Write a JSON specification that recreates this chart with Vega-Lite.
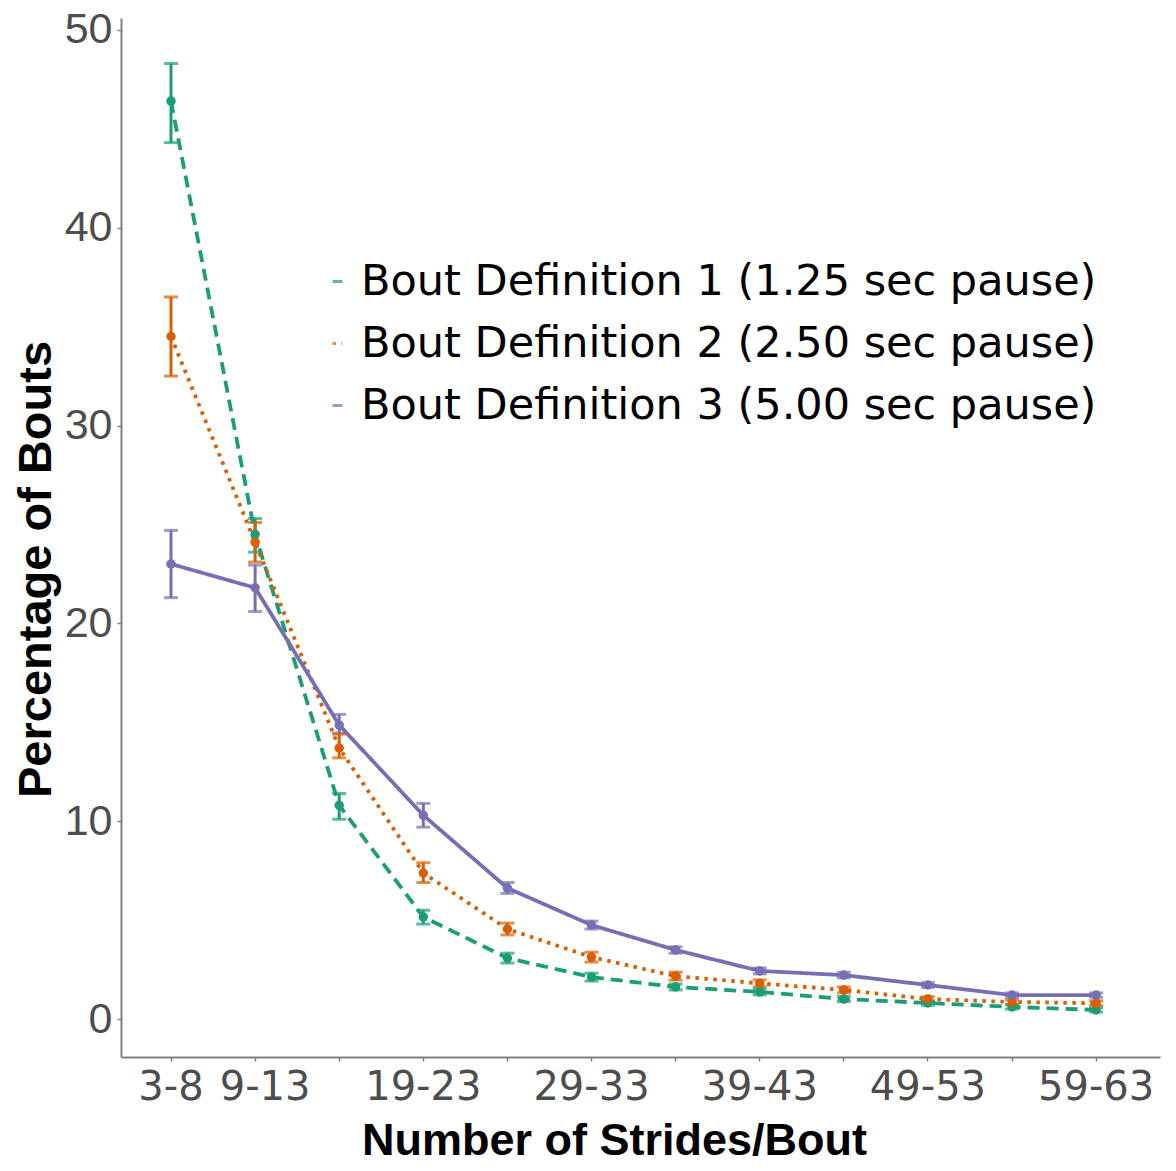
{
  "$schema": "https://vega.github.io/schema/vega-lite/v6.json",
  "width": 1039,
  "height": 1039,
  "autosize": {"type": "none"},
  "padding": {"left": 121, "top": 18, "right": 16, "bottom": 114},
  "background": "white",
  "config": {
    "view": {"stroke": null},
    "axis": {
      "domainColor": "#808080",
      "domainWidth": 2,
      "tickColor": "#808080",
      "tickWidth": 1.5,
      "tickSize": 4,
      "grid": false,
      "labelColor": "#4d4d4d",
      "titleFont": "Liberation Sans",
      "titleFontWeight": "bold",
      "titleColor": "#000000"
    },
    "legend": {
      "labelFont": "DejaVu Sans",
      "labelFontSize": 43,
      "labelColor": "#000000",
      "symbolType": "stroke",
      "symbolStrokeWidth": 3,
      "symbolSize": 100,
      "rowPadding": 18,
      "labelOffset": 2,
      "labelLimit": 1000
    }
  },
  "data": {
    "values": [
      {"cat": "3-8", "series": "Bout Definition 1 (1.25 sec pause)", "y": 46.4, "lo": 44.3, "hi": 48.3},
      {"cat": "9-13", "series": "Bout Definition 1 (1.25 sec pause)", "y": 24.5, "lo": 23.6, "hi": 25.3},
      {"cat": "14-18", "series": "Bout Definition 1 (1.25 sec pause)", "y": 10.8, "lo": 10.1, "hi": 11.4},
      {"cat": "19-23", "series": "Bout Definition 1 (1.25 sec pause)", "y": 5.16, "lo": 4.8, "hi": 5.5},
      {"cat": "24-28", "series": "Bout Definition 1 (1.25 sec pause)", "y": 3.08, "lo": 2.83, "hi": 3.33},
      {"cat": "29-33", "series": "Bout Definition 1 (1.25 sec pause)", "y": 2.12, "lo": 1.92, "hi": 2.32},
      {"cat": "34-38", "series": "Bout Definition 1 (1.25 sec pause)", "y": 1.62, "lo": 1.47, "hi": 1.77},
      {"cat": "39-43", "series": "Bout Definition 1 (1.25 sec pause)", "y": 1.37, "lo": 1.22, "hi": 1.52},
      {"cat": "44-48", "series": "Bout Definition 1 (1.25 sec pause)", "y": 1.01, "lo": 0.88, "hi": 1.14},
      {"cat": "49-53", "series": "Bout Definition 1 (1.25 sec pause)", "y": 0.81, "lo": 0.69, "hi": 0.93},
      {"cat": "54-58", "series": "Bout Definition 1 (1.25 sec pause)", "y": 0.61, "lo": 0.5, "hi": 0.72},
      {"cat": "59-63", "series": "Bout Definition 1 (1.25 sec pause)", "y": 0.46, "lo": 0.35, "hi": 0.57},
      {"cat": "3-8", "series": "Bout Definition 2 (2.50 sec pause)", "y": 34.5, "lo": 32.5, "hi": 36.5},
      {"cat": "9-13", "series": "Bout Definition 2 (2.50 sec pause)", "y": 24.1, "lo": 23.1, "hi": 25.1},
      {"cat": "14-18", "series": "Bout Definition 2 (2.50 sec pause)", "y": 13.7, "lo": 13.2, "hi": 14.4},
      {"cat": "19-23", "series": "Bout Definition 2 (2.50 sec pause)", "y": 7.38, "lo": 6.9, "hi": 7.9},
      {"cat": "24-28", "series": "Bout Definition 2 (2.50 sec pause)", "y": 4.55, "lo": 4.25, "hi": 4.85},
      {"cat": "29-33", "series": "Bout Definition 2 (2.50 sec pause)", "y": 3.13, "lo": 2.88, "hi": 3.38},
      {"cat": "34-38", "series": "Bout Definition 2 (2.50 sec pause)", "y": 2.17, "lo": 1.97, "hi": 2.37},
      {"cat": "39-43", "series": "Bout Definition 2 (2.50 sec pause)", "y": 1.8, "lo": 1.62, "hi": 1.98},
      {"cat": "44-48", "series": "Bout Definition 2 (2.50 sec pause)", "y": 1.47, "lo": 1.32, "hi": 1.62},
      {"cat": "49-53", "series": "Bout Definition 2 (2.50 sec pause)", "y": 1.01, "lo": 0.89, "hi": 1.13},
      {"cat": "54-58", "series": "Bout Definition 2 (2.50 sec pause)", "y": 0.86, "lo": 0.74, "hi": 0.98},
      {"cat": "59-63", "series": "Bout Definition 2 (2.50 sec pause)", "y": 0.8, "lo": 0.68, "hi": 0.92},
      {"cat": "3-8", "series": "Bout Definition 3 (5.00 sec pause)", "y": 23.0, "lo": 21.3, "hi": 24.7},
      {"cat": "9-13", "series": "Bout Definition 3 (5.00 sec pause)", "y": 21.8, "lo": 20.6, "hi": 22.95},
      {"cat": "14-18", "series": "Bout Definition 3 (5.00 sec pause)", "y": 14.86, "lo": 14.45, "hi": 15.4},
      {"cat": "19-23", "series": "Bout Definition 3 (5.00 sec pause)", "y": 10.3, "lo": 9.7, "hi": 10.9},
      {"cat": "24-28", "series": "Bout Definition 3 (5.00 sec pause)", "y": 6.62, "lo": 6.35, "hi": 6.9},
      {"cat": "29-33", "series": "Bout Definition 3 (5.00 sec pause)", "y": 4.75, "lo": 4.55, "hi": 4.95},
      {"cat": "34-38", "series": "Bout Definition 3 (5.00 sec pause)", "y": 3.49, "lo": 3.33, "hi": 3.65},
      {"cat": "39-43", "series": "Bout Definition 3 (5.00 sec pause)", "y": 2.43, "lo": 2.28, "hi": 2.58},
      {"cat": "44-48", "series": "Bout Definition 3 (5.00 sec pause)", "y": 2.22, "lo": 2.08, "hi": 2.36},
      {"cat": "49-53", "series": "Bout Definition 3 (5.00 sec pause)", "y": 1.72, "lo": 1.6, "hi": 1.84},
      {"cat": "54-58", "series": "Bout Definition 3 (5.00 sec pause)", "y": 1.21, "lo": 1.1, "hi": 1.32},
      {"cat": "59-63", "series": "Bout Definition 3 (5.00 sec pause)", "y": 1.21, "lo": 1.1, "hi": 1.32}
    ]
  },
  "encoding": {
    "x": {
      "field": "cat",
      "type": "ordinal",
      "sort": ["3-8", "9-13", "14-18", "19-23", "24-28", "29-33", "34-38", "39-43", "44-48", "49-53", "54-58", "59-63"],
      "scale": {"type": "band", "paddingInner": 0, "paddingOuter": 0.177, "align": 0.267, "round": false},
      "axis": {
        "title": "Number of Strides/Bout",
        "titleFontSize": 45,
        "titleX": 493,
        "titleY": 97,
        "titleBaseline": "alphabetic",
        "titleAnchor": null,
        "labelFont": "DejaVu Sans",
        "labelFontSize": 40,
        "labelAngle": 0,
        "labelPadding": 6,
        "labelOverlap": false,
        "bandPosition": 0.5,
        "labelOffset": {"condition": {"test": "datum.value == '9-13'", "value": 10}, "value": 0},
        "labelExpr": "indexof(['3-8','9-13','19-23','29-33','39-43','49-53','59-63'], datum.value) >= 0 ? datum.value : ''"
      }
    },
    "color": {
      "field": "series",
      "type": "nominal",
      "scale": {
        "domain": ["Bout Definition 1 (1.25 sec pause)", "Bout Definition 2 (2.50 sec pause)", "Bout Definition 3 (5.00 sec pause)"],
        "range": ["#1b9e77", "#d95f02", "#7570b3"]
      },
      "legend": {"title": null, "orient": "none", "legendX": 195, "legendY": 242}
    }
  },
  "layer": [
    {
      "mark": {"type": "rule", "strokeWidth": 3},
      "encoding": {
        "y": {"field": "lo", "type": "quantitative"},
        "y2": {"field": "hi"}
      }
    },
    {
      "mark": {"type": "tick", "size": 14, "thickness": 3},
      "encoding": {"y": {"field": "lo", "type": "quantitative"}}
    },
    {
      "mark": {"type": "tick", "size": 14, "thickness": 3},
      "encoding": {"y": {"field": "hi", "type": "quantitative"}}
    },
    {
      "mark": {"type": "line", "strokeWidth": 3.8},
      "encoding": {
        "y": {
          "field": "y",
          "type": "quantitative",
          "scale": {"domain": [-1.92, 50.6], "nice": false, "zero": false},
          "axis": {
            "title": "Percentage of Bouts",
            "titleFontSize": 47,
            "titleAngle": -90,
            "titleAlign": "center",
            "titleBaseline": "alphabetic",
            "titleX": -71,
            "titleY": 551,
            "titleAnchor": null,
            "labelFont": "Liberation Sans",
            "labelFontSize": 43,
            "values": [0, 10, 20, 30, 40, 50],
            "labelPadding": 5
          }
        },
        "strokeDash": {
          "field": "series",
          "type": "nominal",
          "scale": {
            "domain": ["Bout Definition 1 (1.25 sec pause)", "Bout Definition 2 (2.50 sec pause)", "Bout Definition 3 (5.00 sec pause)"],
            "range": [[12, 7], [3.5, 5.5], [1, 0]]
          },
          "legend": {"title": null, "orient": "none", "legendX": 195, "legendY": 242}
        }
      }
    },
    {
      "mark": {"type": "point", "filled": true, "size": 90, "opacity": 1},
      "encoding": {"y": {"field": "y", "type": "quantitative"}}
    }
  ]
}
